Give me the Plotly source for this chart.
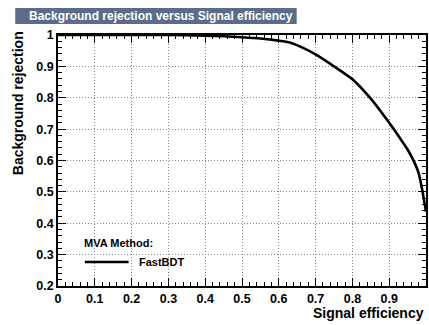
import plotly.graph_objects as go

# ROC curve
sig_eff = [0.0, 0.1, 0.2, 0.3, 0.4, 0.45, 0.5, 0.55, 0.6, 0.63, 0.66, 0.7, 0.75,
           0.8, 0.85, 0.9, 0.93, 0.95, 0.97, 0.98, 0.99, 0.995, 1.0]
bkg_rej = [1.0, 1.0, 1.0, 1.0, 0.998, 0.996, 0.993, 0.989, 0.982, 0.976, 0.962, 0.938, 0.90,
           0.859, 0.797, 0.72, 0.67, 0.635, 0.59, 0.56, 0.505, 0.47, 0.437]

method_name = "FastBDT"
title_text = "Background rejection versus Signal efficiency"

W, H = 429, 325
L, R, T, B = 58, 1, 35, 39
pw, ph = W - L - R, H - T - B


def px(x):
    return (x - L) / pw


def py(y):
    return (H - B - y) / ph


FONT = "Liberation Sans"

fig = go.Figure()
fig.add_trace(go.Scatter(x=sig_eff, y=bkg_rej, mode="lines",
                         line=dict(color="black", width=2.6, shape="spline", smoothing=0.6),
                         showlegend=False))

axis_common = dict(
    showline=True, linecolor="black", linewidth=1.5, mirror="allticks",
    ticks="inside", ticklen=8, tickwidth=1, tickcolor="black",
    showgrid=True, gridcolor="#8a8a8a", griddash="1px,2px", gridwidth=1,
    zeroline=False,
    tickfont=dict(family=FONT, size=12.5, color="black", weight="bold"),
)

fig.update_xaxes(range=[0, 1], dtick=0.1, tick0=0,
                 minor=dict(dtick=0.02, ticklen=4, tickcolor="black", ticks="inside", showgrid=False),
                 **axis_common)
fig.update_yaxes(range=[0.2, 1], dtick=0.1, tick0=0.2,
                 minor=dict(dtick=0.02, ticklen=4, tickcolor="black", ticks="inside", showgrid=False),
                 **axis_common)

# title box
fig.add_shape(type="rect", xref="paper", yref="paper",
              x0=px(15), x1=px(298), y0=py(24), y1=py(8),
              fillcolor="#5b6b8a", line=dict(width=0), layer="above")

annots = [
    dict(text=title_text, x=px(27), y=py(16), xanchor="left", yanchor="middle",
         font=dict(family=FONT, size=12, color="white", weight="bold")),
    dict(text="Background rejection", x=px(18), y=py(29), xanchor="center", yanchor="top",
         textangle=-90, font=dict(family=FONT, size=14, color="black", weight="bold")),
    dict(text="Signal efficiency", x=px(428), y=py(313), xanchor="right", yanchor="middle",
         font=dict(family=FONT, size=14, color="black", weight="bold")),
    dict(text="MVA Method:", x=px(82), y=py(243), xanchor="left", yanchor="middle",
         font=dict(family=FONT, size=11, color="black", weight="bold")),
    dict(text=method_name, x=px(137), y=py(262), xanchor="left", yanchor="middle",
         font=dict(family=FONT, size=11, color="black", weight="bold")),
]
for a in annots:
    fig.add_annotation(xref="paper", yref="paper", showarrow=False, **a)

# legend line sample
fig.add_shape(type="line", xref="paper", yref="paper",
              x0=px(85), x1=px(129), y0=py(262), y1=py(262),
              line=dict(color="black", width=2.6))

fig.update_layout(
    width=W, height=H,
    margin=dict(l=L, r=R, t=T, b=B),
    paper_bgcolor="white", plot_bgcolor="white",
    showlegend=False,
)

fig.write_html("out.html", config={"displayModeBar": False},
               post_script="document.body.style.margin='0';")
